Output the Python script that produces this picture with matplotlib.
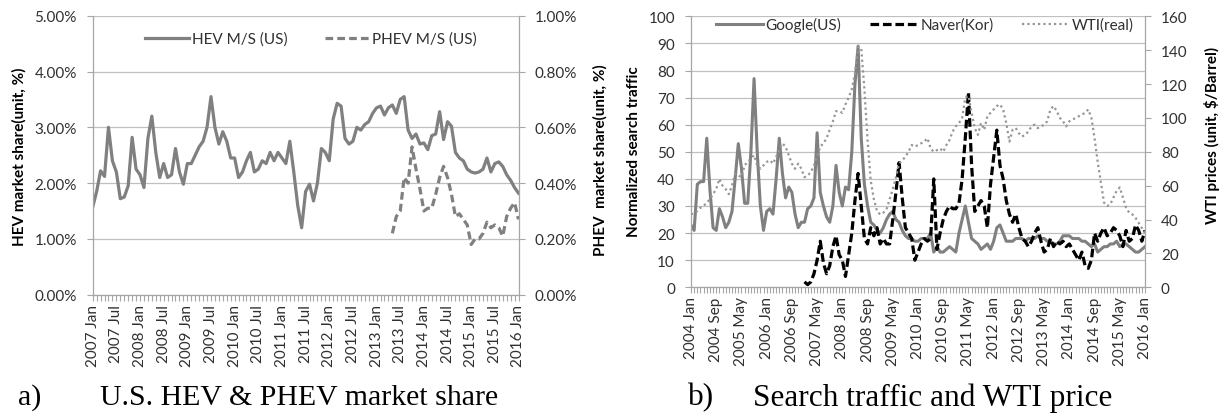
import numpy as np
import matplotlib
matplotlib.use("Agg")
import matplotlib.pyplot as plt
from matplotlib.ticker import FixedLocator, FuncFormatter, MultipleLocator
from matplotlib.lines import Line2D

MON = ["Jan", "Feb", "Mar", "Apr", "May", "Jun", "Jul", "Aug", "Sep", "Oct", "Nov", "Dec"]

# ---------------- chart a data (monthly, 2007 Jan - 2016 Jan) ----------------
hev = [1.57, 1.85, 2.22, 2.12, 3.0, 2.4, 2.2, 1.72, 1.75, 1.95,
       2.82, 2.25, 2.15, 1.92, 2.8, 3.2, 2.55, 2.1, 2.35, 2.1,
       2.15, 2.62, 2.2, 1.98, 2.35, 2.35, 2.5, 2.65, 2.75, 3.0,
       3.55, 3.0, 2.7, 2.92, 2.75, 2.45, 2.45, 2.1, 2.2, 2.4,
       2.55, 2.2, 2.25, 2.4, 2.35, 2.55, 2.4, 2.55, 2.45, 2.35,
       2.75, 2.2, 1.6, 1.2, 1.85, 1.98, 1.68, 2.0, 2.62, 2.55,
       2.4, 3.15, 3.43, 3.38, 2.8, 2.7, 2.75, 3.0, 2.95, 3.05,
       3.1, 3.25, 3.35, 3.38, 3.22, 3.35, 3.4, 3.25, 3.5, 3.55,
       2.95, 2.8, 2.88, 2.7, 2.72, 2.6, 2.85, 2.88, 3.28, 2.78,
       3.1, 3.02, 2.55, 2.45, 2.4, 2.25, 2.2, 2.18, 2.2, 2.25,
       2.45, 2.2, 2.35, 2.38, 2.3, 2.15, 2.05, 1.92, 1.82]
phev_start = "2013 May"
phev = [0.22, 0.28, 0.30, 0.42, 0.40, 0.53, 0.45, 0.38, 0.30, 0.31,
        0.31, 0.36, 0.42, 0.46, 0.42, 0.36, 0.28, 0.29, 0.27, 0.25,
        0.18, 0.20, 0.20, 0.22, 0.26, 0.24, 0.25, 0.24, 0.21, 0.28,
        0.31, 0.33, 0.27]
ticks_a = ["2007 Jan", "2007 Jul", "2008 Jan", "2008 Jul", "2009 Jan", "2009 Jul",
           "2010 Jan", "2010 Jul", "2011 Jan", "2011 Jul", "2012 Jan", "2012 Jul",
           "2013 Jan", "2013 Jul", "2014 Jan", "2014 Jul", "2015 Jan", "2015 Jul",
           "2016 Jan"]

# ---------------- chart b data (monthly, 2004 Jan - 2016 Jan) ----------------
google = [23, 21, 38, 39, 39, 55, 36, 22, 21, 29,
          26, 22, 24, 28, 40, 53, 44, 31, 31, 50,
          77, 50, 30, 21, 28, 29, 27, 40, 55, 42,
          33, 37, 35, 27, 22, 24, 24, 29, 30, 33,
          57, 35, 30, 26, 24, 30, 45, 35, 30, 37,
          36, 50, 75, 89, 55, 38, 30, 24, 23, 21,
          20, 22, 25, 27, 28, 25, 24, 21, 19, 18,
          18, 17, 17, 18, 18, 18, 20, 13, 15, 13,
          13, 14, 15, 14, 13, 20, 25, 30, 24, 18,
          17, 16, 14, 15, 16, 14, 17, 22, 23, 20,
          17, 17, 17, 18, 18, 18, 17, 18, 18, 18,
          19, 18, 18, 17, 17, 16, 16, 17, 19, 19,
          19, 18, 18, 18, 17, 17, 16, 15, 16, 13,
          14, 15, 15, 16, 16, 17, 15, 16, 16, 15,
          14, 13, 13, 14, 15]
naver_start = "2007 Jan"
naver = [2, 1, 2, 5, 10, 17, 9, 5, 8, 15,
         19, 12, 10, 4, 12, 20, 32, 42, 30, 18,
         16, 22, 19, 22, 16, 18, 16, 16, 25, 35,
         46, 33, 22, 20, 18, 10, 13, 16, 18, 17,
         18, 40, 14, 20, 25, 28, 30, 29, 29, 31,
         40, 55, 72, 45, 28, 30, 32, 30, 22, 38,
         48, 58, 45, 40, 32, 27, 24, 27, 22, 18,
         17, 15, 17, 20, 22, 17, 13, 14, 18, 15,
         17, 16, 17, 15, 16, 14, 12, 10, 13, 8,
         7, 10, 20, 17, 20, 22, 19, 20, 22, 21,
         19, 15, 21, 17, 18, 23, 21, 17, 21]
wti = [43, 44, 45, 47, 48, 50, 52, 55, 58, 64,
       60, 58, 55, 60, 67, 66, 65, 72, 74, 76,
       78, 72, 70, 72, 74, 75, 73, 77, 81, 85,
       83, 78, 73, 70, 73, 70, 65, 66, 68, 72,
       77, 83, 85, 88, 93, 98, 104, 104, 103, 108,
       112, 117, 126, 142, 141, 117, 87, 63, 52, 45,
       43, 44, 46, 52, 58, 65, 73, 75, 77, 80,
       84, 83, 84, 85, 86, 88, 82, 80, 81, 82,
       80, 84, 87, 92, 95, 97, 100, 112, 113, 103,
       94, 90, 97, 93, 101, 103, 105, 107, 108, 105,
       97, 86, 93, 94, 91, 89, 90, 92, 95, 96,
       94, 95, 96, 98, 105, 107, 104, 100, 98, 95,
       98, 99, 100, 101, 102, 103, 105, 100, 88, 74,
       62, 50, 48, 49, 53, 57, 59, 53, 47, 44,
       43, 41, 38, 35, 32]
ticks_b = ["2004 Jan", "2004 Sep", "2005 May", "2006 Jan", "2006 Sep", "2007 May",
           "2008 Jan", "2008 Sep", "2009 May", "2010 Jan", "2010 Sep", "2011 May",
           "2012 Jan", "2012 Sep", "2013 May", "2014 Jan", "2014 Sep", "2015 May",
           "2016 Jan"]

# ---------------- helpers ----------------
def month_names(y0, n):
    out = []
    for i in range(n):
        out.append(f"{y0 + i // 12} {MON[i % 12]}")
    return out

months_a = month_names(2007, len(hev))
months_b = month_names(2004, len(google))
xa = np.arange(len(months_a))
xb = np.arange(len(months_b))
pa0 = months_a.index(phev_start)
nb0 = months_b.index(naver_start)

plt.rcParams['font.family'] = ['Lato', 'DejaVu Sans']
W, H = 1223, 414
fig = plt.figure(figsize=(W / 100, H / 100), dpi=100)


def rect(x0, x1, y0, y1):
    return [x0 / W, 1 - y1 / H, (x1 - x0) / W, (y1 - y0) / H]

AX_C = '#a6a6a6'
GRID_C = '#c0c0c0'
TXT_C = '#303030'
LBL = 11


def style(ax, ax2, months, ticks):
    for a in (ax, ax2):
        a.spines['top'].set_visible(False)
        for s in ('left', 'right', 'bottom'):
            a.spines[s].set_color(AX_C)
            a.spines[s].set_linewidth(0.9)
    ax2.spines['left'].set_visible(False)
    ax2.spines['bottom'].set_visible(False)
    ax.spines['right'].set_visible(False)
    ax.yaxis.grid(True, color=GRID_C, lw=0.9)
    ax.set_axisbelow(True)
    ax.set_xlim(0, len(months) - 1)
    ax.xaxis.set_major_locator(FixedLocator([months.index(t) for t in ticks]))
    ax.set_xticklabels(ticks)
    ax.xaxis.set_minor_locator(MultipleLocator(1))
    ax.tick_params(axis='x', which='both', direction='out', length=4, width=0.8,
                   color=AX_C, labelsize=LBL, labelcolor=TXT_C, pad=2.5,
                   labelrotation=90)
    for a in (ax, ax2):
        a.tick_params(axis='y', direction='out', length=4, width=0.8, color=AX_C,
                      labelsize=LBL, labelcolor=TXT_C, pad=7.5)

# ---------------- chart a ----------------
axa = fig.add_axes(rect(92.7, 518.5, 16.7, 295.7))
axa2 = axa.twinx()
style(axa, axa2, months_a, ticks_a)
axa.set_ylim(0, 5)
axa.set_yticks(np.arange(0, 5.01, 1))
axa.yaxis.set_major_formatter(FuncFormatter(lambda v, p: f"{v:.2f}%"))
axa2.set_ylim(0, 1)
axa2.set_yticks(np.arange(0, 1.01, 0.2))
axa2.yaxis.set_major_formatter(FuncFormatter(lambda v, p: f"{v:.2f}%"))

GREY = '#808080'
axa.plot(xa, hev, color=GREY, lw=2.3, solid_joinstyle='round')
axa2.plot(xa[pa0:pa0 + len(phev)], phev, color=GREY, lw=2.3, dashes=(2.4, 1.3))

fig.text(19.5 / W, 1 - 157 / H, "HEV market share(unit, %)", rotation=90,
         ha='center', va='center', fontsize=LBL, fontweight='bold')
fig.text(600 / W, 1 - 160 / H, "PHEV  market share(unit, %)", rotation=90,
         ha='center', va='center', fontsize=LBL, fontweight='bold')

ha = [Line2D([], [], color=GREY, lw=2.3),
      Line2D([], [], color=GREY, lw=2.3, dashes=(2.4, 1.3))]
fig.legend(ha, ["HEV M/S (US)", "PHEV M/S (US)"], loc='center',
           bbox_to_anchor=(311 / W, 1 - 40 / H), ncol=2, frameon=False,
           handlelength=2.9, handletextpad=0.2, columnspacing=2.4,
           fontsize=LBL, borderpad=0, labelcolor=TXT_C)

# ---------------- chart b ----------------
axb = fig.add_axes(rect(691, 1145, 17.3, 288.3))
axb2 = axb.twinx()
style(axb, axb2, months_b, ticks_b)
axb.set_ylim(0, 100)
axb.set_yticks(np.arange(0, 101, 10))
axb2.set_ylim(0, 160)
axb2.set_yticks(np.arange(0, 161, 20))

WTI_C = '#969696'
axb.plot(xb, google, color=GREY, lw=2.2, solid_joinstyle='round', zorder=2)
axb.plot(xb[nb0:nb0 + len(naver)], naver, color='black', lw=2.3,
         dashes=(2.7, 1.2), zorder=3)
axb2.plot(xb, wti, color=WTI_C, lw=1.6, linestyle=(0, (1, 1.4)))

fig.text(633.5 / W, 1 - 152 / H, "Normalized search traffic", rotation=90,
         ha='center', va='center', fontsize=LBL, fontweight='bold')
fig.text(1212 / W, 1 - 135 / H, "WTI prices (unit, $/Barrel)", rotation=90,
         ha='center', va='center', fontsize=LBL, fontweight='bold')

hb = [Line2D([], [], color=GREY, lw=2.2),
      Line2D([], [], color='black', lw=2.3, dashes=(2.7, 1.2)),
      Line2D([], [], color=WTI_C, lw=1.6, linestyle=(0, (1, 1.4)))]
fig.legend(hb, ["Google(US)", "Naver(Kor)", "WTI(real)"], loc='center',
           bbox_to_anchor=(925 / W, 1 - 25.5 / H), ncol=3, frameon=False,
           handlelength=3.1, handletextpad=0.15, columnspacing=1.9,
           fontsize=LBL, borderpad=0, labelcolor=TXT_C)

# ---------------- captions ----------------
SERIF = ['Liberation Serif', 'DejaVu Serif']
fig.text(17.6 / W, 1 - 398 / H, "a)", fontsize=21.5, family=SERIF, va='center', ha='left')
fig.text(100 / W, 1 - 398 / H, "U.S. HEV & PHEV market share", fontsize=21.5,
         family=SERIF, va='center', ha='left')
fig.text(688 / W, 1 - 398 / H, "b)", fontsize=22.5, family=SERIF, va='center', ha='left')
fig.text(753 / W, 1 - 398 / H, "Search traffic and WTI price", fontsize=22.5,
         family=SERIF, va='center', ha='left')

fig.savefig("out.png", dpi=100, facecolor='white')
